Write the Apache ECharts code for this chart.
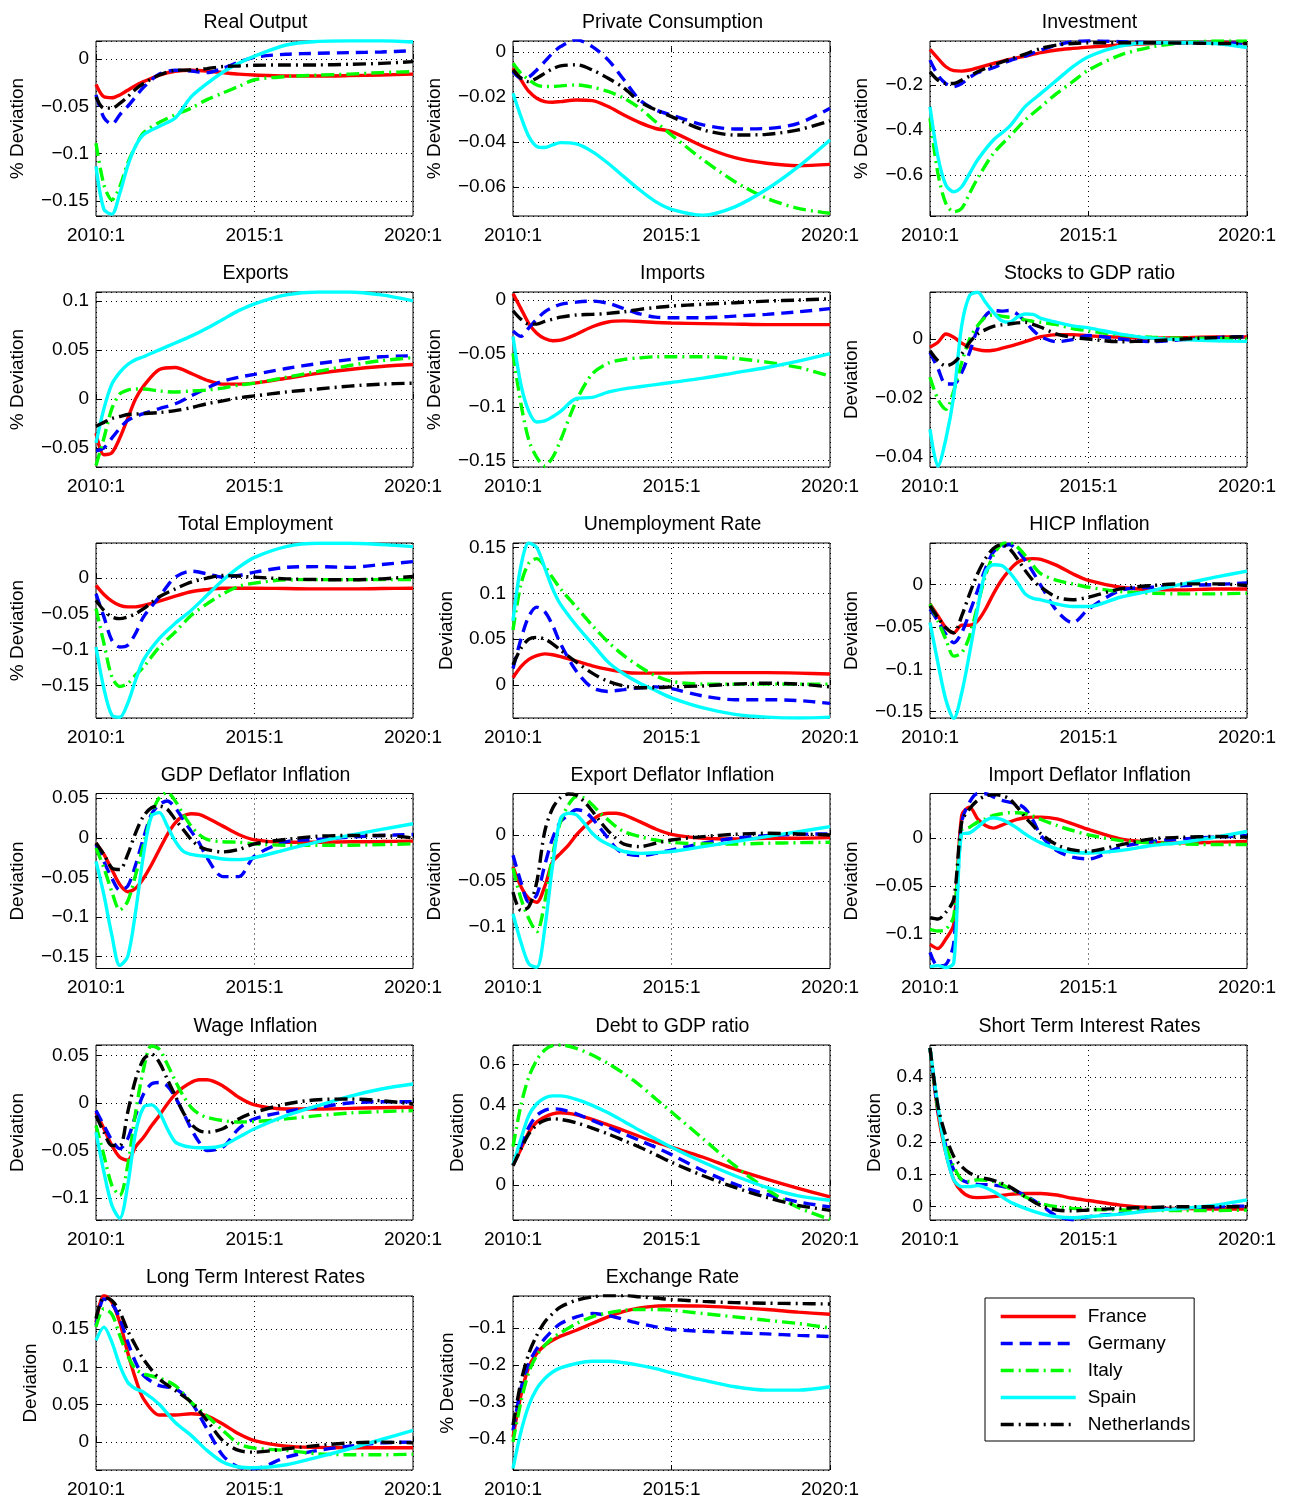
<!DOCTYPE html>
<html>
<head>
<meta charset="utf-8">
<script src="https://cdn.jsdelivr.net/npm/echarts@6/dist/echarts.min.js"></script>
<style>
html, body { margin: 0; padding: 0; background: #fff; }
#chart { width: 1292px; height: 1499px; }
</style>
</head>
<body>
<div id="chart"></div>
<script>
var countries = ['France', 'Germany', 'Italy', 'Spain', 'Netherlands'];

var qStd = [0,1,2,3,4,5,6,8,10,12,14,16,18,20,24,28,32,36,40];
var qDense = [0,1,2,3,4,5,6,7,8,9,10,11,12,13,14,16,18,20,24,28,32,36,40];

// each block: France, Germany, Italy, Spain, Netherlands
var realOutput = [
    [-0.027,-0.040,-0.041,-0.038,-0.033,-0.028,-0.024,-0.017,-0.013,-0.012,-0.0127,-0.0144,-0.016,-0.017,-0.018,-0.018,-0.0176,-0.017,-0.016],
    [-0.038,-0.062,-0.069,-0.059,-0.050,-0.040,-0.030,-0.016,-0.012,-0.0127,-0.0144,-0.0098,-0.0035,0.0018,0.005,0.006,0.0067,0.0074,0.0088],
    [-0.089,-0.133,-0.149,-0.135,-0.110,-0.092,-0.078,-0.067,-0.059,-0.052,-0.043,-0.036,-0.029,-0.022,-0.0186,-0.017,-0.016,-0.0144,-0.0134],
    [-0.1135,-0.159,-0.164,-0.142,-0.113,-0.092,-0.080,-0.071,-0.0625,-0.040,-0.026,-0.014,-0.0046,0.003,0.0148,0.0186,0.0193,0.0193,0.018],
    [-0.040,-0.052,-0.052,-0.047,-0.040,-0.032,-0.026,-0.017,-0.012,-0.0116,-0.0102,-0.008,-0.0074,-0.0067,-0.0063,-0.0063,-0.0056,-0.0046,-0.0028]
];
var privateConsumption = [
    [-0.0071,-0.0123,-0.0175,-0.0205,-0.022,-0.0223,-0.022,-0.0213,-0.0216,-0.0242,-0.028,-0.0314,-0.034,-0.0354,-0.042,-0.047,-0.0495,-0.0506,-0.050],
    [-0.0086,-0.0116,-0.011,-0.0079,-0.0042,-0.0004,0.0025,0.0055,0.0025,-0.0034,-0.0123,-0.0213,-0.0257,-0.028,-0.0324,-0.0342,-0.034,-0.0317,-0.025],
    [-0.0049,-0.0094,-0.0123,-0.0146,-0.0153,-0.0153,-0.015,-0.0146,-0.0156,-0.0175,-0.0205,-0.025,-0.031,-0.0369,-0.048,-0.0577,-0.0651,-0.0696,-0.0718],
    [-0.0183,-0.0287,-0.0376,-0.042,-0.0425,-0.0413,-0.0403,-0.0409,-0.0443,-0.0495,-0.0555,-0.0614,-0.0666,-0.070,-0.0726,-0.0689,-0.0611,-0.051,-0.0391],
    [-0.0079,-0.0116,-0.0131,-0.0116,-0.0094,-0.0074,-0.0061,-0.0056,-0.0079,-0.0116,-0.016,-0.022,-0.0257,-0.0287,-0.0346,-0.0369,-0.0366,-0.0346,-0.0306]
];
var investment = [
    [-0.0415,-0.0815,-0.1185,-0.136,-0.138,-0.133,-0.123,-0.104,-0.086,-0.071,-0.056,-0.044,-0.037,-0.031,-0.022,-0.015,-0.012,-0.010,-0.012],
    [-0.089,-0.156,-0.193,-0.207,-0.193,-0.166,-0.145,-0.123,-0.092,-0.071,-0.044,-0.022,-0.007,-0.003,-0.007,-0.012,-0.012,-0.012,-0.015],
    [-0.348,-0.593,-0.726,-0.763,-0.748,-0.681,-0.615,-0.504,-0.430,-0.356,-0.296,-0.237,-0.185,-0.133,-0.067,-0.030,-0.012,-0.004,-0.004],
    [-0.296,-0.519,-0.644,-0.674,-0.652,-0.593,-0.533,-0.444,-0.385,-0.296,-0.237,-0.178,-0.119,-0.074,-0.027,-0.012,-0.012,-0.015,-0.033],
    [-0.141,-0.178,-0.193,-0.193,-0.178,-0.160,-0.141,-0.111,-0.086,-0.062,-0.037,-0.022,-0.015,-0.012,-0.012,-0.012,-0.013,-0.015,-0.015]
];
var exportsVals = [
    [-0.035,-0.057,-0.055,-0.040,-0.020,0.000,0.013,0.030,0.032,0.026,0.019,0.015,0.015,0.016,0.021,0.026,0.030,0.033,0.035],
    [-0.053,-0.050,-0.040,-0.030,-0.022,-0.018,-0.015,-0.010,-0.005,0.003,0.011,0.018,0.022,0.025,0.031,0.036,0.040,0.043,0.044],
    [-0.068,-0.040,-0.010,0.005,0.009,0.010,0.010,0.008,0.007,0.008,0.009,0.011,0.014,0.016,0.022,0.028,0.034,0.039,0.042],
    [-0.045,-0.010,0.015,0.027,0.035,0.040,0.043,0.050,0.057,0.064,0.072,0.081,0.090,0.097,0.106,0.109,0.109,0.106,0.100],
    [-0.028,-0.024,-0.020,-0.018,-0.016,-0.0155,-0.015,-0.014,-0.012,-0.009,-0.005,-0.002,0.001,0.003,0.007,0.010,0.013,0.015,0.016]
];
var importsVals = [
    [0.006,-0.008,-0.022,-0.031,-0.036,-0.038,-0.0375,-0.032,-0.025,-0.0205,-0.0195,-0.020,-0.021,-0.0215,-0.022,-0.0225,-0.023,-0.023,-0.023],
    [-0.029,-0.034,-0.026,-0.018,-0.011,-0.007,-0.004,-0.002,-0.001,-0.003,-0.008,-0.013,-0.016,-0.0166,-0.0166,-0.015,-0.0134,-0.011,-0.008],
    [-0.0497,-0.097,-0.131,-0.147,-0.155,-0.147,-0.131,-0.094,-0.069,-0.059,-0.0555,-0.054,-0.053,-0.053,-0.053,-0.0545,-0.058,-0.063,-0.071],
    [-0.034,-0.079,-0.104,-0.114,-0.113,-0.109,-0.104,-0.092,-0.091,-0.086,-0.083,-0.081,-0.079,-0.077,-0.073,-0.068,-0.063,-0.057,-0.050],
    [-0.010,-0.018,-0.0225,-0.0225,-0.020,-0.018,-0.016,-0.014,-0.0134,-0.0125,-0.011,-0.0087,-0.007,-0.0056,-0.004,-0.0025,-0.001,0.000,0.0012]
];
var stocksGdp = [
    [-0.0028,-0.0011,0.0017,0.0006,-0.0014,-0.0028,-0.0036,-0.004,-0.0038,-0.0032,-0.0025,-0.0017,-0.0009,0.000,0.0008,0.0015,0.0015,0.0011,0.0006,0.0003,0.0005,0.0007,0.0007],
    [-0.0045,-0.010,-0.0153,-0.0153,-0.0114,-0.0045,0.0034,0.008,0.0097,0.0095,0.0097,0.0085,0.006,0.003,0.0008,-0.0009,-0.0002,0.0012,0.000,-0.0009,-0.0002,0.0005,0.0008],
    [-0.013,-0.0205,-0.0239,-0.0176,-0.008,0.000,0.0045,0.0074,0.0082,0.0078,0.0074,0.007,0.0065,0.006,0.0057,0.0049,0.0036,0.0028,0.0014,0.0006,0.0003,0.0002,0.000],
    [-0.0307,-0.0432,-0.034,-0.0193,0.0045,0.0148,0.0159,0.0125,0.0091,0.0063,0.0057,0.0074,0.0085,0.0084,0.007,0.0057,0.0045,0.0038,0.0017,0.0003,-0.0002,-0.0006,-0.0008],
    [-0.004,-0.0074,-0.0091,-0.008,-0.0051,-0.0011,0.0017,0.0032,0.0043,0.0048,0.0051,0.0055,0.0057,0.005,0.004,0.0017,0.0006,0.000,-0.0009,-0.0006,0.000,0.0005,0.0008]
];
var totalEmployment = [
    [-0.010,-0.0227,-0.032,-0.038,-0.040,-0.040,-0.038,-0.032,-0.025,-0.019,-0.016,-0.014,-0.014,-0.014,-0.0145,-0.015,-0.015,-0.0145,-0.014],
    [-0.022,-0.054,-0.0866,-0.096,-0.0935,-0.077,-0.054,-0.026,0.0014,0.0097,0.006,0.0014,0.0037,0.0083,0.015,0.016,0.015,0.019,0.023],
    [-0.0426,-0.091,-0.1375,-0.151,-0.147,-0.135,-0.124,-0.096,-0.075,-0.052,-0.036,-0.022,-0.0116,-0.007,-0.0023,-0.002,-0.002,-0.002,-0.002],
    [-0.096,-0.154,-0.191,-0.194,-0.1745,-0.142,-0.114,-0.084,-0.063,-0.045,-0.024,-0.003,0.015,0.029,0.044,0.0486,0.0486,0.0468,0.044],
    [-0.031,-0.045,-0.054,-0.0565,-0.054,-0.0495,-0.0426,-0.026,-0.015,-0.0056,0.000,0.0037,0.0028,0.0014,-0.001,-0.002,-0.0023,-0.001,0.0023]
];
var unemploymentRate = [
    [0.008,0.020,0.028,0.032,0.034,0.033,0.031,0.026,0.021,0.017,0.014,0.013,0.013,0.013,0.0135,0.0135,0.0135,0.013,0.012],
    [0.018,0.050,0.075,0.085,0.080,0.065,0.045,0.015,-0.003,-0.007,-0.005,-0.003,-0.002,-0.004,-0.012,-0.016,-0.016,-0.017,-0.020],
    [0.060,0.110,0.133,0.138,0.130,0.117,0.105,0.085,0.065,0.047,0.032,0.020,0.010,0.004,0.001,0.001,0.001,0.001,0.001],
    [0.070,0.130,0.155,0.150,0.128,0.105,0.088,0.065,0.045,0.025,0.012,0.002,-0.006,-0.014,-0.025,-0.032,-0.035,-0.036,-0.035],
    [0.022,0.040,0.050,0.052,0.050,0.045,0.038,0.025,0.013,0.004,-0.001,-0.003,-0.003,-0.002,-0.001,0.001,0.002,0.001,-0.002]
];
var hicpInflation = [
    [-0.023,-0.037,-0.051,-0.057,-0.048,-0.048,-0.043,-0.029,-0.011,0.0048,0.0167,0.0258,0.0298,0.0306,0.0298,0.0226,0.0127,0.0048,-0.0032,-0.006,-0.0063,-0.0052,-0.0052],
    [-0.029,-0.043,-0.0587,-0.0687,-0.0567,-0.033,-0.0071,0.0187,0.0385,0.0444,0.0472,0.0405,0.0286,0.0147,-0.0012,-0.031,-0.045,-0.029,-0.0071,-0.0032,-0.0012,0.000,0.002],
    [-0.023,-0.043,-0.0647,-0.0845,-0.0806,-0.0607,-0.025,0.0107,0.0345,0.0472,0.0496,0.0444,0.0345,0.0226,0.0127,0.0048,0.0008,-0.0032,-0.0083,-0.0103,-0.011,-0.011,-0.0103],
    [-0.0448,-0.0925,-0.136,-0.158,-0.128,-0.0806,-0.029,0.0147,0.0234,0.0226,0.0147,0.0028,-0.011,-0.0163,-0.018,-0.023,-0.026,-0.026,-0.015,-0.0071,0.0008,0.0087,0.0159],
    [-0.025,-0.039,-0.051,-0.057,-0.037,-0.011,0.0127,0.0306,0.0425,0.0472,0.0425,0.0306,0.0167,0.0048,-0.0032,-0.015,-0.018,-0.015,-0.0052,-0.0012,0.0008,0.0008,-0.0012]
];
var gdpDeflator = [
    [-0.0064,-0.021,-0.040,-0.059,-0.068,-0.0636,-0.051,-0.034,-0.0148,0.0042,0.019,0.0275,0.0305,0.0297,0.0254,0.0148,0.0042,-0.0025,-0.0055,-0.0055,-0.005,-0.0047,-0.0042],
    [-0.0085,-0.030,-0.051,-0.066,-0.061,-0.034,0.000,0.0297,0.042,0.0466,0.038,0.0233,0.0085,-0.006,-0.025,-0.049,-0.049,-0.023,-0.005,-0.002,0.0008,0.003,0.0042],
    [-0.0127,-0.038,-0.068,-0.091,-0.080,-0.0466,-0.0085,0.0297,0.0508,0.057,0.0466,0.0297,0.0148,0.0042,-0.002,-0.005,-0.0055,-0.0076,-0.0093,-0.0093,-0.0093,-0.0085,-0.0076],
    [-0.0297,-0.072,-0.123,-0.161,-0.150,-0.093,-0.021,0.0275,0.0318,0.0148,-0.0042,-0.017,-0.021,-0.0225,-0.0233,-0.0267,-0.0275,-0.025,-0.0148,-0.005,0.003,0.0106,0.0178],
    [-0.0064,-0.021,-0.038,-0.040,-0.021,0.0064,0.0275,0.038,0.040,0.036,0.0233,0.0106,-0.002,-0.0106,-0.0148,-0.0178,-0.0148,-0.0076,-0.002,0.002,0.003,0.003,0.000]
];
var exportDeflator = [
    [-0.0345,-0.056,-0.069,-0.073,-0.056,-0.029,-0.020,-0.011,0.000,0.009,0.0164,0.0218,0.0236,0.0236,0.0218,0.0145,0.0065,0.0007,-0.0036,-0.0044,-0.0036,-0.0036,-0.0029],
    [-0.022,-0.051,-0.073,-0.065,-0.033,-0.0036,0.0145,0.0218,0.0273,0.0255,0.018,0.0073,-0.0036,-0.0145,-0.020,-0.0225,-0.020,-0.0164,-0.009,-0.0036,-0.0007,0.0007,0.0011],
    [-0.036,-0.069,-0.091,-0.105,-0.073,-0.022,0.0145,0.0327,0.0418,0.040,0.0327,0.0236,0.0164,0.009,0.0036,-0.0018,-0.0055,-0.008,-0.0098,-0.0098,-0.009,-0.0084,-0.008],
    [-0.0855,-0.1164,-0.140,-0.1436,-0.102,-0.0327,0.018,0.0236,0.0218,0.0127,0.0018,-0.0055,-0.010,-0.0145,-0.018,-0.020,-0.0193,-0.018,-0.0127,-0.0073,-0.0018,0.0036,0.009],
    [-0.062,-0.082,-0.078,-0.051,0.0036,0.029,0.0407,0.0444,0.043,0.036,0.026,0.0145,0.0044,-0.0036,-0.010,-0.0127,-0.009,-0.0055,-0.0018,0.0007,0.0018,0.0011,0.000]
];
var importDeflator = [
    [-0.1116,-0.116,-0.106,-0.0905,0.024,0.0327,0.0204,0.0134,0.0106,0.0134,0.0169,0.0197,0.0215,0.0222,0.0222,0.0204,0.0151,0.0092,-0.0007,-0.0042,-0.0049,-0.0042,-0.0035],
    [-0.120,-0.1345,-0.133,-0.110,0.0169,0.038,0.0468,0.0468,0.0433,0.0398,0.038,0.0363,0.031,0.0187,0.0028,-0.013,-0.020,-0.0218,-0.0095,-0.0035,-0.0007,0.0011,0.0028],
    [-0.0958,-0.0975,-0.0958,-0.0817,0.0081,0.0116,0.0169,0.0204,0.0239,0.0257,0.0268,0.0268,0.0257,0.0232,0.0197,0.0134,0.0081,0.0035,-0.0025,-0.0049,-0.006,-0.0067,-0.0067],
    [-0.135,-0.134,-0.136,-0.131,0.0046,0.0056,0.0116,0.0187,0.0215,0.0197,0.0158,0.0106,0.0046,-0.0007,-0.0049,-0.0113,-0.0148,-0.0155,-0.013,-0.0077,-0.0042,0.0011,0.007],
    [-0.0835,-0.085,-0.078,-0.064,0.0169,0.031,0.0398,0.0444,0.0458,0.045,0.0415,0.0327,0.0222,0.0134,0.0046,-0.007,-0.0123,-0.0137,-0.007,-0.0007,0.0011,0.0018,0.0011]
];
var wageInflation = [
    [-0.0098,-0.027,-0.0447,-0.057,-0.060,-0.046,-0.036,-0.024,-0.013,-0.001,0.0094,0.0164,0.0216,0.0244,0.0244,0.018,0.006,-0.002,-0.0063,-0.0063,-0.0056,-0.0049,-0.0045],
    [-0.008,-0.0237,-0.039,-0.048,-0.0377,-0.013,0.0094,0.020,0.0216,0.018,0.006,-0.0098,-0.027,-0.041,-0.050,-0.0464,-0.027,-0.0167,-0.009,-0.0045,0.000,0.0014,0.0014],
    [-0.0237,-0.055,-0.0865,-0.097,-0.0656,-0.0098,0.0356,0.060,0.0565,0.0408,0.0234,0.0077,-0.0045,-0.0115,-0.015,-0.0185,-0.020,-0.0195,-0.0167,-0.0133,-0.0105,-0.009,-0.008],
    [-0.0307,-0.0726,-0.1075,-0.121,-0.0865,-0.0307,-0.0045,-0.002,-0.0098,-0.027,-0.041,-0.0447,-0.0464,-0.047,-0.047,-0.0447,-0.036,-0.027,-0.0133,-0.0028,0.007,0.0147,0.020],
    [-0.0133,-0.0307,-0.0447,-0.0447,-0.0098,0.025,0.046,0.0513,0.0426,0.025,0.0077,-0.0098,-0.022,-0.029,-0.0307,-0.027,-0.0167,-0.0098,-0.001,0.0035,0.0042,0.0024,-0.001]
];
var debtGdp = [
    [0.098,0.178,0.262,0.312,0.337,0.353,0.358,0.348,0.325,0.298,0.270,0.240,0.212,0.187,0.137,0.078,0.028,-0.018,-0.060],
    [0.098,0.195,0.287,0.345,0.370,0.378,0.375,0.353,0.320,0.287,0.253,0.220,0.187,0.150,0.070,0.003,-0.047,-0.085,-0.110],
    [0.190,0.395,0.537,0.620,0.670,0.692,0.695,0.678,0.645,0.603,0.553,0.495,0.428,0.362,0.228,0.095,-0.022,-0.113,-0.172],
    [0.098,0.228,0.345,0.403,0.432,0.442,0.442,0.425,0.395,0.358,0.315,0.270,0.228,0.187,0.112,0.045,-0.013,-0.055,-0.077],
    [0.095,0.178,0.253,0.298,0.320,0.328,0.325,0.308,0.282,0.253,0.220,0.187,0.150,0.112,0.045,-0.013,-0.063,-0.102,-0.127]
];
var shortRates = [
    [0.49,0.290,0.166,0.083,0.047,0.031,0.028,0.031,0.038,0.041,0.041,0.036,0.026,0.019,0.005,-0.003,-0.006,-0.007,-0.007],
    [0.49,0.300,0.187,0.114,0.083,0.073,0.069,0.067,0.057,0.035,0.005,-0.029,-0.040,-0.031,-0.021,-0.010,-0.005,0.000,0.002],
    [0.49,0.300,0.187,0.124,0.083,0.078,0.083,0.078,0.057,0.031,0.010,0.000,-0.005,-0.008,-0.010,-0.012,-0.012,-0.012,-0.010],
    [0.49,0.311,0.166,0.083,0.062,0.062,0.065,0.047,0.016,-0.005,-0.021,-0.031,-0.034,-0.031,-0.023,-0.012,-0.005,0.005,0.021],
    [0.49,0.311,0.218,0.155,0.124,0.104,0.093,0.081,0.062,0.031,0.003,-0.010,-0.013,-0.010,-0.005,-0.002,0.000,0.000,0.000]
];
var longRates = [
    [0.159,0.195,0.186,0.159,0.119,0.084,0.0575,0.036,0.036,0.0376,0.035,0.024,0.011,0.002,-0.0053,-0.007,-0.0075,-0.0075,-0.0075],
    [0.155,0.190,0.184,0.164,0.133,0.106,0.0885,0.075,0.071,0.053,0.0177,-0.0177,-0.033,-0.035,-0.020,-0.011,-0.0053,-0.001,0.000],
    [0.153,0.177,0.170,0.1416,0.115,0.097,0.0907,0.085,0.075,0.053,0.035,0.0155,-0.002,-0.008,-0.011,-0.0155,-0.0168,-0.0168,-0.016],
    [0.135,0.1527,0.1327,0.1018,0.0796,0.0708,0.0664,0.050,0.026,0.009,-0.011,-0.0265,-0.033,-0.034,-0.030,-0.020,-0.0088,0.0035,0.0155],
    [0.164,0.192,0.188,0.173,0.148,0.128,0.110,0.084,0.0686,0.053,0.0288,0.002,-0.011,-0.0133,-0.0088,-0.0044,-0.001,0.000,-0.001]
];
var exchangeRate = [
    [-0.395,-0.282,-0.205,-0.169,-0.147,-0.133,-0.122,-0.106,-0.088,-0.070,-0.055,-0.046,-0.041,-0.040,-0.041,-0.045,-0.050,-0.057,-0.063],
    [-0.377,-0.264,-0.196,-0.156,-0.129,-0.106,-0.088,-0.070,-0.061,-0.066,-0.077,-0.088,-0.097,-0.104,-0.109,-0.113,-0.116,-0.120,-0.123],
    [-0.408,-0.300,-0.219,-0.174,-0.147,-0.127,-0.113,-0.088,-0.070,-0.059,-0.052,-0.050,-0.050,-0.052,-0.061,-0.070,-0.079,-0.088,-0.100],
    [-0.480,-0.381,-0.309,-0.264,-0.237,-0.219,-0.208,-0.196,-0.190,-0.190,-0.194,-0.201,-0.210,-0.221,-0.241,-0.259,-0.268,-0.268,-0.259],
    [-0.363,-0.246,-0.169,-0.120,-0.084,-0.061,-0.043,-0.025,-0.016,-0.012,-0.012,-0.016,-0.019,-0.023,-0.028,-0.0315,-0.033,-0.034,-0.035]
];

var xTickLabels = {0: '2010:1', 20: '2015:1', 40: '2020:1'};

var panels = [
    {title: 'Real Output', q: qStd, vals: realOutput, min: -0.166, max: 0.019, step: 0.05, ylab: '% Deviation', gap: 69},
    {title: 'Private Consumption', q: qStd, vals: privateConsumption, min: -0.073, max: 0.005, step: 0.02, ylab: '% Deviation', gap: 69},
    {title: 'Investment', q: qStd, vals: investment, min: -0.782, max: -0.004, step: 0.2, ylab: '% Deviation', gap: 59},
    {title: 'Exports', q: qStd, vals: exportsVals, min: -0.0695, max: 0.109, step: 0.05, ylab: '% Deviation', gap: 69},
    {title: 'Imports', q: qStd, vals: importsVals, min: -0.156, max: 0.0075, step: 0.05, ylab: '% Deviation', gap: 69},
    {title: 'Stocks to GDP ratio', q: qDense, vals: stocksGdp, min: -0.0435, max: 0.016, step: 0.02, ylab: 'Deviation', gap: 69},
    {title: 'Total Employment', q: qStd, vals: totalEmployment, min: -0.195, max: 0.049, step: 0.05, ylab: '% Deviation', gap: 69},
    {title: 'Unemployment Rate', q: qStd, vals: unemploymentRate, min: -0.036, max: 0.155, step: 0.05, ylab: 'Deviation', gap: 57},
    {title: 'HICP Inflation', q: qDense, vals: hicpInflation, min: -0.1575, max: 0.049, step: 0.05, ylab: 'Deviation', gap: 69},
    {title: 'GDP Deflator Inflation', q: qDense, vals: gdpDeflator, min: -0.165, max: 0.056, step: 0.05, ylab: 'Deviation', gap: 69},
    {title: 'Export Deflator Inflation', q: qDense, vals: exportDeflator, min: -0.145, max: 0.045, step: 0.05, ylab: 'Deviation', gap: 69},
    {title: 'Import Deflator Inflation', q: qDense, vals: importDeflator, min: -0.137, max: 0.047, step: 0.05, ylab: 'Deviation', gap: 69},
    {title: 'Wage Inflation', q: qDense, vals: wageInflation, min: -0.123, max: 0.061, step: 0.05, ylab: 'Deviation', gap: 69},
    {title: 'Debt to GDP ratio', q: qStd, vals: debtGdp, min: -0.175, max: 0.695, step: 0.2, ylab: 'Deviation', gap: 46},
    {title: 'Short Term Interest Rates', q: qStd, vals: shortRates, min: -0.041, max: 0.499, step: 0.1, ylab: 'Deviation', gap: 46},
    {title: 'Long Term Interest Rates', q: qStd, vals: longRates, min: -0.037, max: 0.194, step: 0.05, ylab: 'Deviation', gap: 56},
    {title: 'Exchange Rate', q: qStd, vals: exchangeRate, min: -0.484, max: -0.0135, step: 0.1, ylab: '% Deviation', gap: 56}
];

var lineStyles = [
    {color: '#ff0000', type: 'solid'},
    {color: '#0000ff', type: [12, 7]},
    {color: '#00ff00', type: [13, 5, 2, 5]},
    {color: '#00ffff', type: 'solid'},
    {color: '#000000', type: [13, 5, 2, 5]}
];

var FONT = '"Liberation Sans", Arial, Helvetica, sans-serif';
var colLeft = [96, 513, 930];
var rowTop = [41, 292, 543, 793.5, 1045, 1296];
var plotW = 317, plotH = 175;

function fmtY(step) {
    return function (v) {
        var k = v / step;
        if (Math.abs(k - Math.round(k)) > 1e-6) return '';
        var r = Math.round(v * 1e6) / 1e6;
        return String(r).replace('-', '\u2212');
    };
}

var grids = [], xAxes = [], yAxes = [], titles = [], series = [];

panels.forEach(function (p, i) {
    var left = colLeft[i % 3], top = rowTop[Math.floor(i / 3)];
    grids.push({left: left, top: top, width: plotW, height: plotH, show: true,
        borderColor: '#000', borderWidth: 1, containLabel: false});
    titles.push({text: p.title, left: left + plotW / 2 - 4, top: top - 33, textAlign: 'center',
        textStyle: {fontSize: 19.5, fontWeight: 'normal', color: '#000', fontFamily: FONT}});
    xAxes.push({gridIndex: i, type: 'value', min: 0, max: 40, interval: 20,
        axisLine: {show: false},
        axisTick: {show: true, inside: true, length: 5, lineStyle: {color: '#000'}},
        axisLabel: {fontSize: 19, color: '#000', fontFamily: FONT, margin: 10,
            formatter: function (v) { return xTickLabels[v] || ''; }},
        splitLine: {show: true, lineStyle: {color: '#000', type: [1, 4], width: 1}}});
    yAxes.push({gridIndex: i, type: 'value', min: p.min, max: p.max,
        minInterval: p.step, maxInterval: p.step,
        axisLine: {show: false},
        axisTick: {show: true, inside: true, length: 5, lineStyle: {color: '#000'}},
        axisLabel: {fontSize: 19, color: '#000', fontFamily: FONT, margin: 7, formatter: fmtY(p.step)},
        splitLine: {show: true, lineStyle: {color: '#000', type: [1, 4], width: 1}},
        name: p.ylab, nameLocation: 'middle', nameGap: p.gap, nameRotate: 90,
        nameTextStyle: {fontSize: 19, color: '#000', fontFamily: FONT}});
    p.vals.forEach(function (vals, c) {
        var pts = p.q.map(function (q, j) { return [q, vals[j]]; });
        series.push({
            name: countries[c], type: 'line', xAxisIndex: i, yAxisIndex: i,
            data: pts, symbol: 'none', showSymbol: false, smooth: 0.3,
            lineStyle: {color: lineStyles[c].color, width: 3.4, type: lineStyles[c].type},
            itemStyle: {color: lineStyles[c].color},
            emphasis: {disabled: true}, silent: true
        });
    });
});

var chart = echarts.init(document.getElementById('chart'), null, {renderer: 'canvas'});
chart.setOption({
    backgroundColor: '#fff',
    animation: false,
    title: titles,
    grid: grids,
    xAxis: xAxes,
    yAxis: yAxes,
    legend: {
        data: countries, orient: 'vertical', left: 985, top: 1298,
        itemWidth: 75, itemHeight: 14, itemGap: 8,
        padding: [9, 4, 7, 14], borderColor: '#000', borderWidth: 1,
        backgroundColor: '#fff', selectedMode: false,
        itemStyle: {opacity: 0, borderWidth: 0},
        lineStyle: {width: 3.4},
        textStyle: {fontSize: 19, color: '#000', fontFamily: FONT, padding: [0, 0, 0, 7]}
    },
    series: series
});
</script>
</body>
</html>
